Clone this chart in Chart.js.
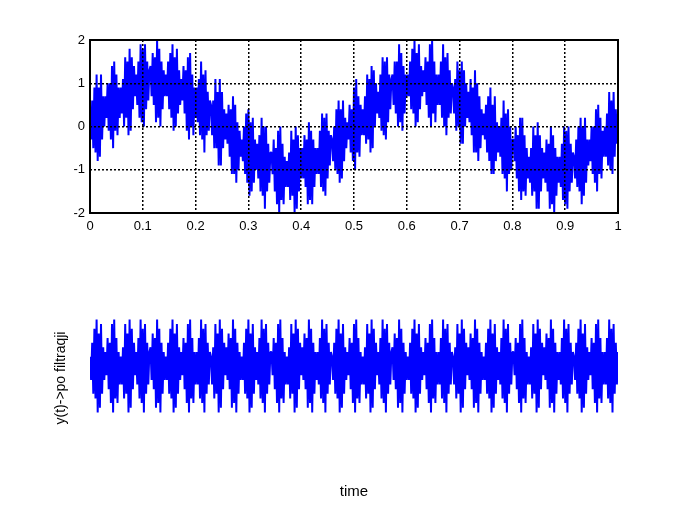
<!DOCTYPE html>
<html>
<head>
<meta charset="utf-8">
<script src="https://cdn.jsdelivr.net/npm/chart.js@4/dist/chart.umd.min.js"></script>
<style>
  body { margin: 0; background: #fff; }
  #wrap { position: relative; width: 688px; height: 516px; }
  #topWrap { position: absolute; left: 0; top: 0; width: 688px; height: 250px; }
  #botWrap { position: absolute; left: 0; top: 250px; width: 688px; height: 266px; }
</style>
</head>
<body>
<div id="wrap">
  <div id="topWrap"><canvas id="topGraph" width="688" height="250"></canvas></div>
  <div id="botWrap"><canvas id="botGraph" width="688" height="266"></canvas></div>
</div>
<script>
// signal before filtering
var signal = [
  0.2,-0.3,0.6,-0.5,0.9,-0.6,1.2,-0.8,0.9,-0.7,1.2,-0.3,0.7,0.0,
  0.7,0.2,1.0,-0.1,1.0,-0.3,1.4,-0.5,1.5,-0.1,1.2,-0.2,0.9,0.2,
  0.9,0.3,1.1,0.0,1.6,0.2,1.5,-0.2,1.8,-0.1,1.6,0.4,1.4,0.7,
  1.2,0.5,1.5,0.2,1.9,0.1,1.8,0.0,1.9,0.4,1.5,0.6,1.3,
  1.4,0.7,1.7,0.5,1.6,0.1,2.0,0.2,1.8,0.0,1.5,0.4,1.3,0.7,
  1.2,0.7,1.5,0.4,1.7,0.2,1.9,-0.1,1.6,0.0,1.8,0.3,1.3,0.5,
  1.1,0.6,1.4,0.3,1.3,-0.1,1.6,-0.3,1.7,0.0,1.2,-0.2,0.9,0.2,
  0.9,0.1,1.1,-0.2,1.5,-0.3,1.2,-0.6,1.3,-0.2,0.8,-0.1,0.6,
  0.5,-0.2,0.6,-0.5,1.1,-0.5,0.8,-0.9,1.1,-0.9,0.8,-0.5,0.4,-0.3,
  0.3,-0.4,0.5,-0.7,0.4,-1.1,0.7,-1.1,0.5,-1.3,0.1,-1.0,-0.1,-0.7,
  -0.3,-0.8,0.0,-1.1,0.3,-1.3,0.4,-1.6,0.1,-1.5,0.2,-1.3,-0.3,-1.0,
  -0.4,-1.2,-0.2,-1.5,0.2,-1.6,0.0,-1.9,0.0,-1.5,-0.4,-1.3,-0.6,
  -0.6,-1.1,-0.3,-1.5,-0.5,-1.8,-0.1,-2.0,0.0,-1.7,-0.4,-1.8,-0.7,-1.4,
  -0.8,-1.4,-0.6,-1.7,-0.1,-1.6,-0.3,-2.0,0.0,-1.9,-0.2,-1.5,-0.5,-1.2,
  -0.5,-1.2,-0.2,-1.4,-0.3,-1.8,0.1,-1.7,-0.1,-1.8,-0.3,-1.4,-0.5,-1.1,
  -0.5,-1.1,-0.1,-1.4,0.3,-1.5,0.2,-1.6,0.3,-1.2,-0.1,-0.9,-0.2,
  -0.3,-0.8,0.0,-1.0,0.4,-1.1,0.6,-1.3,0.4,-1.2,0.6,-0.8,0.2,-0.5,
  0.1,-0.3,0.5,-0.6,0.4,-0.8,0.9,-1.0,1.1,-0.6,0.7,-0.7,0.5,-0.2,
  0.4,-0.2,0.7,-0.4,1.2,-0.3,1.1,-0.6,1.4,-0.5,1.3,0.0,1.0,0.3,
  0.8,0.2,1.2,-0.1,1.6,-0.2,1.5,-0.3,1.6,0.1,1.2,0.4,1.1,
  1.2,0.5,1.5,0.3,1.5,0.0,1.9,0.1,1.7,-0.1,1.4,0.3,1.2,0.7,
  1.2,0.7,1.5,0.4,1.8,0.3,2.0,0.0,1.7,0.1,1.9,0.4,1.4,0.7,
  1.3,0.8,1.6,0.5,1.5,0.2,1.9,0.0,2.0,0.3,1.5,0.1,1.2,0.5,
  1.2,0.5,1.5,0.2,1.9,0.0,1.6,-0.2,1.7,0.2,1.3,0.3,1.0,
  0.9,0.3,1.1,-0.1,1.5,0.0,1.3,-0.4,1.5,-0.4,1.3,0.0,1.0,0.2,
  0.8,0.1,1.1,-0.2,0.9,-0.6,1.3,-0.6,1.0,-0.8,0.7,-0.5,0.4,-0.2,
  0.3,-0.3,0.5,-0.6,0.7,-0.8,0.9,-1.1,0.5,-1.1,0.7,-0.8,0.1,-0.6,
  0.0,-0.7,0.2,-1.1,0.6,-1.2,0.3,-1.5,0.4,-1.1,0.0,-1.0,-0.3,
  -0.3,-0.8,0.0,-1.2,-0.2,-1.5,0.2,-1.7,0.2,-1.5,-0.2,-1.6,-0.5,-1.2,
  -0.7,-1.3,-0.5,-1.6,0.0,-1.5,-0.2,-1.9,0.1,-1.9,-0.2,-1.5,-0.5,-1.2,
  -0.6,-1.3,-0.3,-1.5,-0.4,-1.9,0.0,-1.8,-0.2,-2.0,-0.5,-1.6,-0.7,-1.3,
  -0.7,-1.4,-0.4,-1.7,0.0,-1.8,-0.1,-1.9,0.0,-1.5,-0.4,-1.3,-0.6,
  -0.7,-1.2,-0.3,-1.4,0.0,-1.5,0.2,-1.8,0.0,-1.6,0.2,-1.3,-0.3,-0.9,
  -0.3,-0.8,0.0,-1.1,0.0,-1.3,0.4,-1.5,0.5,-1.1,0.2,-1.2,-0.1,-0.7,
  0.0,-0.7,0.3,-0.9,0.8,-1.0,0.6,-1.1,0.8,-0.7,0.4,-0.4,0.3
];

// signal after filtering (lower plot)
var filtered = [
  0.2,-0.3,0.5,-0.6,0.8,-0.7,1.0,-1.0,0.7,-0.9,0.9,-0.6,0.4,-0.3,
  0.3,-0.2,0.6,-0.5,0.5,-0.8,0.9,-1.0,1.0,-0.7,0.6,-0.8,0.3,-0.4,
  0.2,-0.4,0.4,-0.7,0.9,-0.6,0.7,-1.0,1.0,-0.9,0.8,-0.5,0.5,-0.2,
  0.3,-0.4,0.6,-0.7,1.0,-0.8,0.8,-1.0,0.9,-0.6,0.5,-0.4,0.3,
  0.4,-0.3,0.7,-0.5,0.6,-0.9,1.0,-0.8,0.8,-1.0,0.5,-0.6,0.3,-0.3,
  0.2,-0.3,0.5,-0.6,0.8,-0.7,1.0,-1.0,0.7,-0.9,0.9,-0.6,0.4,-0.3,
  0.3,-0.2,0.6,-0.5,0.5,-0.8,0.9,-1.0,1.0,-0.7,0.6,-0.8,0.3,-0.4,
  0.3,-0.4,0.6,-0.7,1.0,-0.8,0.8,-1.0,0.9,-0.6,0.5,-0.4,0.3,
  0.2,-0.4,0.4,-0.7,0.9,-0.6,0.7,-1.0,1.0,-0.9,0.8,-0.5,0.5,-0.2,
  0.4,-0.3,0.7,-0.5,0.6,-0.9,1.0,-0.8,0.8,-1.0,0.5,-0.6,0.3,-0.3,
  0.2,-0.3,0.5,-0.6,0.8,-0.7,1.0,-1.0,0.7,-0.9,0.9,-0.6,0.4,-0.3,
  0.3,-0.4,0.6,-0.7,1.0,-0.8,0.8,-1.0,0.9,-0.6,0.5,-0.4,0.3,
  0.3,-0.2,0.6,-0.5,0.5,-0.8,0.9,-1.0,1.0,-0.7,0.6,-0.8,0.3,-0.4,
  0.2,-0.4,0.4,-0.7,0.9,-0.6,0.7,-1.0,1.0,-0.9,0.8,-0.5,0.5,-0.2,
  0.4,-0.3,0.7,-0.5,0.6,-0.9,1.0,-0.8,0.8,-1.0,0.5,-0.6,0.3,-0.3,
  0.3,-0.4,0.6,-0.7,1.0,-0.8,0.8,-1.0,0.9,-0.6,0.5,-0.4,0.3,
  0.2,-0.3,0.5,-0.6,0.8,-0.7,1.0,-1.0,0.7,-0.9,0.9,-0.6,0.4,-0.3,
  0.3,-0.2,0.6,-0.5,0.5,-0.8,0.9,-1.0,1.0,-0.7,0.6,-0.8,0.3,-0.4,
  0.2,-0.4,0.4,-0.7,0.9,-0.6,0.7,-1.0,1.0,-0.9,0.8,-0.5,0.5,-0.2,
  0.3,-0.4,0.6,-0.7,1.0,-0.8,0.8,-1.0,0.9,-0.6,0.5,-0.4,0.3,
  0.4,-0.3,0.7,-0.5,0.6,-0.9,1.0,-0.8,0.8,-1.0,0.5,-0.6,0.3,-0.3,
  0.2,-0.3,0.5,-0.6,0.8,-0.7,1.0,-1.0,0.7,-0.9,0.9,-0.6,0.4,-0.3,
  0.3,-0.2,0.6,-0.5,0.5,-0.8,0.9,-1.0,1.0,-0.7,0.6,-0.8,0.3,-0.4,
  0.3,-0.4,0.6,-0.7,1.0,-0.8,0.8,-1.0,0.9,-0.6,0.5,-0.4,0.3,
  0.2,-0.4,0.4,-0.7,0.9,-0.6,0.7,-1.0,1.0,-0.9,0.8,-0.5,0.5,-0.2,
  0.4,-0.3,0.7,-0.5,0.6,-0.9,1.0,-0.8,0.8,-1.0,0.5,-0.6,0.3,-0.3,
  0.2,-0.3,0.5,-0.6,0.8,-0.7,1.0,-1.0,0.7,-0.9,0.9,-0.6,0.4,-0.3,
  0.3,-0.4,0.6,-0.7,1.0,-0.8,0.8,-1.0,0.9,-0.6,0.5,-0.4,0.3,
  0.3,-0.2,0.6,-0.5,0.5,-0.8,0.9,-1.0,1.0,-0.7,0.6,-0.8,0.3,-0.4,
  0.2,-0.4,0.4,-0.7,0.9,-0.6,0.7,-1.0,1.0,-0.9,0.8,-0.5,0.5,-0.2,
  0.4,-0.3,0.7,-0.5,0.6,-0.9,1.0,-0.8,0.8,-1.0,0.5,-0.6,0.3,-0.3,
  0.3,-0.4,0.6,-0.7,1.0,-0.8,0.8,-1.0,0.9,-0.6,0.5,-0.4,0.3,
  0.2,-0.3,0.5,-0.6,0.8,-0.7,1.0,-1.0,0.7,-0.9,0.9,-0.6,0.4,-0.3,
  0.3,-0.2,0.6,-0.5,0.5,-0.8,0.9,-1.0,1.0,-0.7,0.6,-0.8,0.3,-0.4,
  0.3,-0.4,0.6,-0.7,1.0,-0.8,0.8,-1.0,0.9,-0.6,0.5,-0.4,0.3
];

var tStart = 0, tEnd = 1;
var xTicks = [0, 0.1, 0.2, 0.3, 0.4, 0.5, 0.6, 0.7, 0.8, 0.9, 1];
var yTicks = [-2, -1, 0, 1, 2];
var yLabel = 'y(t)->po filtraqji';
var xLabel = 'time';

function toPoints(vals) {
  var n = vals.length;
  return vals.map(function(v, i) {
    return { x: tStart + (tEnd - tStart) * i / (n - 1), y: v };
  });
}

Chart.defaults.font.family = '"Liberation Sans", Arial, sans-serif';
Chart.defaults.color = '#000';
Chart.defaults.animation = false;

// black frame round the plot area
var frame = {
  id: 'frame',
  afterDraw: function(chart) {
    var a = chart.chartArea, ctx = chart.ctx;
    ctx.save();
    ctx.strokeStyle = '#000';
    ctx.lineWidth = 2;
    ctx.strokeRect(a.left, a.top, a.right - a.left, a.bottom - a.top);
    ctx.restore();
  }
};

new Chart(document.getElementById('topGraph'), {
  type: 'line',
  data: {
    datasets: [{
      data: toPoints(signal),
      borderColor: '#0000ff',
      borderWidth: 2,
      borderJoinStyle: 'bevel',
      pointRadius: 0,
      tension: 0
    }]
  },
  options: {
    responsive: false,
    layout: { padding: { left: 0, right: 70, top: 40, bottom: 0 } },
    plugins: { legend: { display: false }, tooltip: { enabled: false } },
    scales: {
      x: {
        type: 'linear', min: 0, max: 1,
        afterBuildTicks: function(s) { s.ticks = xTicks.map(function(v) { return { value: v }; }); },
        afterFit: function(s) { s.height = 37; },
        ticks: { font: { size: 13 }, padding: 6, maxRotation: 0, autoSkip: false,
                 callback: function(v) { return String(v); } },
        grid: { color: '#000', lineWidth: 1.5, drawTicks: false, z: 1 },
        border: { display: false, dash: [2, 2] }
      },
      y: {
        min: -2, max: 2,
        afterBuildTicks: function(s) { s.ticks = yTicks.map(function(v) { return { value: v }; }); },
        afterFit: function(s) { s.width = 90; },
        ticks: { font: { size: 13 }, padding: 5, callback: function(v) { return String(v); } },
        grid: { color: '#000', lineWidth: 1.5, drawTicks: false, z: 1 },
        border: { display: false, dash: [2, 2] }
      }
    }
  },
  plugins: [frame]
});

new Chart(document.getElementById('botGraph'), {
  type: 'line',
  data: {
    datasets: [{
      data: toPoints(filtered),
      borderColor: '#0000ff',
      borderWidth: 2,
      borderJoinStyle: 'bevel',
      pointRadius: 0,
      tension: 0
    }]
  },
  options: {
    responsive: false,
    layout: { padding: { left: 51, right: 70, top: 30, bottom: 0 } },
    plugins: { legend: { display: false }, tooltip: { enabled: false } },
    scales: {
      x: {
        type: 'linear', min: 0, max: 1,
        afterFit: function(s) { s.height = 40; },
        ticks: { display: false },
        grid: { display: false },
        border: { display: false },
        title: { display: true, text: xLabel, font: { size: 15 }, padding: { top: 0, bottom: 15 } }
      },
      y: {
        min: -2.37, max: 1.85,
        afterFit: function(s) { s.width = 39; },
        ticks: { display: false },
        grid: { display: false },
        border: { display: false },
        title: { display: true, text: yLabel, font: { size: 14 }, padding: { top: 2, bottom: 0 } }
      }
    }
  }
});
</script>
</body>
</html>
